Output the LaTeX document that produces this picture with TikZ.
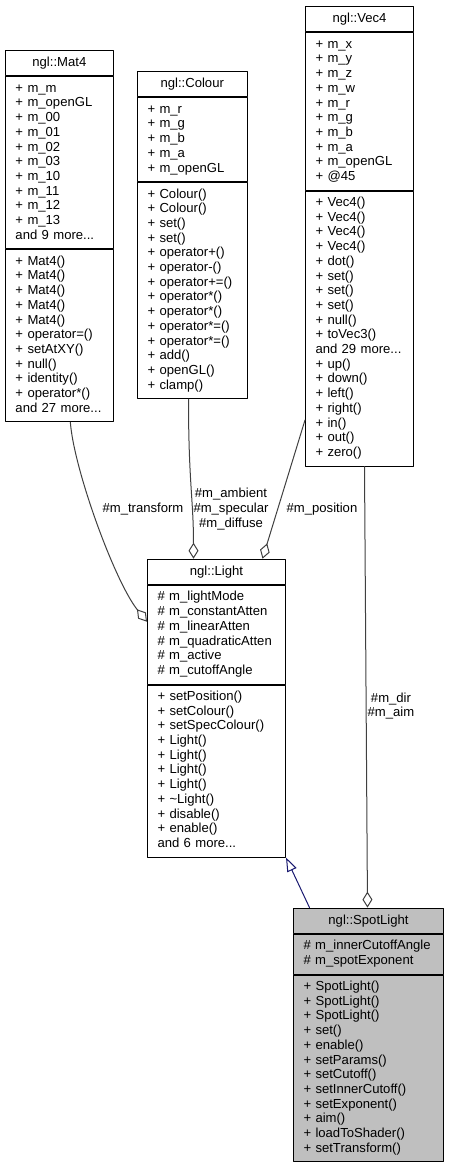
\documentclass[tikz,border=0pt]{standalone}
\usepackage{fontspec}
\setmainfont{Liberation Sans}
\usetikzlibrary{arrows.meta}
\definecolor{edgegrey}{HTML}{404040}
\definecolor{edgeblue}{HTML}{191970}
\definecolor{boxgrey}{HTML}{BFBFBF}

\begin{document}
\begin{tikzpicture}[x=1pt, y=-1pt, line join=round, line cap=round]
				\tikzset{every node/.style={font=\fontsize{13.1}{14.7}\selectfont},
				classtitle/.style={draw, line width=1pt, anchor=north west, text width=#1, inner xsep=10pt, inner ysep=0pt, minimum height=25.3pt, align=center},
				classpart/.style={draw, line width=1pt, anchor=north west, text width=#1, inner xsep=10pt, inner ysep=5.15pt, align=left},
				edgelabel/.style={align=center, inner sep=0pt},
				aggr/.style={draw=edgegrey, line width=1pt, -{Diamond[open, length=16pt, width=10pt]}},
				inherit/.style={draw=edgeblue, line width=1pt, -{Triangle[open, length=14pt, width=10pt]}}}
				\useasboundingbox (0,0) rectangle (449,1165);
				\node[classtitle=87.7pt] (mat4) at (5,50) {ngl::Mat4};
				\node[classpart=87.7pt] (mat4attr) at (mat4.south west) {\begin{tabular}{@{}l@{}}+ m\_m\\+ m\_openGL\\+ m\_00\\+ m\_01\\+ m\_02\\+ m\_03\\+ m\_10\\+ m\_11\\+ m\_12\\+ m\_13\\and 9 more...\end{tabular}};
				\node[classpart=87.7pt] (mat4ops) at (mat4attr.south west) {\begin{tabular}{@{}l@{}}+ Mat4()\\+ Mat4()\\+ Mat4()\\+ Mat4()\\+ Mat4()\\+ operator=()\\+ setAtXY()\\+ null()\\+ identity()\\+ operator*()\\and 27 more...\end{tabular}};
				\node[classtitle=89.5pt] (colour) at (137,71) {ngl::Colour};
				\node[classpart=89.5pt] (colourattr) at (colour.south west) {\begin{tabular}{@{}l@{}}+ m\_r\\+ m\_g\\+ m\_b\\+ m\_a\\+ m\_openGL\end{tabular}};
				\node[classpart=89.5pt] (colourops) at (colourattr.south west) {\begin{tabular}{@{}l@{}}+ Colour()\\+ Colour()\\+ set()\\+ set()\\+ operator+()\\+ operator-()\\+ operator+=()\\+ operator*()\\+ operator*()\\+ operator*=()\\+ operator*=()\\+ add()\\+ openGL()\\+ clamp()\end{tabular}};
				\node[classtitle=88pt] (vec4) at (305,6) {ngl::Vec4};
				\node[classpart=88pt] (vec4attr) at (vec4.south west) {\begin{tabular}{@{}l@{}}+ m\_x\\+ m\_y\\+ m\_z\\+ m\_w\\+ m\_r\\+ m\_g\\+ m\_b\\+ m\_a\\+ m\_openGL\\+ @45\end{tabular}};
				\node[classpart=88pt] (vec4ops) at (vec4attr.south west) {\begin{tabular}{@{}l@{}}+ Vec4()\\+ Vec4()\\+ Vec4()\\+ Vec4()\\+ dot()\\+ set()\\+ set()\\+ set()\\+ null()\\+ toVec3()\\and 29 more...\\+ up()\\+ down()\\+ left()\\+ right()\\+ in()\\+ out()\\+ zero()\end{tabular}};
				\node[classtitle=118pt] (light) at (147,558.7) {ngl::Light};
				\node[classpart=118pt] (lightattr) at (light.south west) {\begin{tabular}{@{}l@{}}\# m\_lightMode\\\# m\_constantAtten\\\# m\_linearAtten\\\# m\_quadraticAtten\\\# m\_active\\\# m\_cutoffAngle\end{tabular}};
				\node[classpart=118pt] (lightops) at (lightattr.south west) {\begin{tabular}{@{}l@{}}+ setPosition()\\+ setColour()\\+ setSpecColour()\\+ Light()\\+ Light()\\+ Light()\\+ Light()\\+ \textasciitilde Light()\\+ disable()\\+ enable()\\and 6 more...\end{tabular}};
				\node[classtitle=130pt, fill=boxgrey] (spotlight) at (293,907.6) {ngl::SpotLight};
				\node[classpart=130pt, fill=boxgrey] (spotattr) at (spotlight.south west) {\begin{tabular}{@{}l@{}}\# m\_innerCutoffAngle\\\# m\_spotExponent\end{tabular}};
				\node[classpart=130pt, fill=boxgrey] (spotops) at (spotattr.south west) {\begin{tabular}{@{}l@{}}+ SpotLight()\\+ SpotLight()\\+ SpotLight()\\+ set()\\+ enable()\\+ setParams()\\+ setCutoff()\\+ setInnerCutoff()\\+ setExponent()\\+ aim()\\+ loadToShader()\\+ setTransform()\end{tabular}};
				\draw[aggr] ([xshift=11pt]mat4ops.south) .. controls (74,470) and (115,582) .. ([yshift=13pt]lightattr.west);
				\draw[aggr] ([xshift=-3.75pt]colourops.south) .. controls +(0,83) and +(0,-59) .. ([xshift=-23pt]light.north);
				\draw[aggr] ([yshift=-91.5pt]vec4ops.west) -- ([xshift=46pt]light.north);
				\draw[aggr] ([xshift=5pt]vec4ops.south) -- ([xshift=-1pt]spotlight.north);
				\draw[inherit] ([xshift=-59pt]spotlight.north) -- (lightops.south east);
				\node[edgelabel] (ltransform) at (143,509) {\#m\_transform};
				\node[edgelabel] (lcolours) at (231,509) {\#m\_ambient\\\#m\_specular\\\#m\_diffuse};
				\node[edgelabel] (lposition) at (322,509) {\#m\_position};
				\node[edgelabel] (ldir) at (391,706) {\#m\_dir\\\#m\_aim};
				\end{tikzpicture}
\end{document}
